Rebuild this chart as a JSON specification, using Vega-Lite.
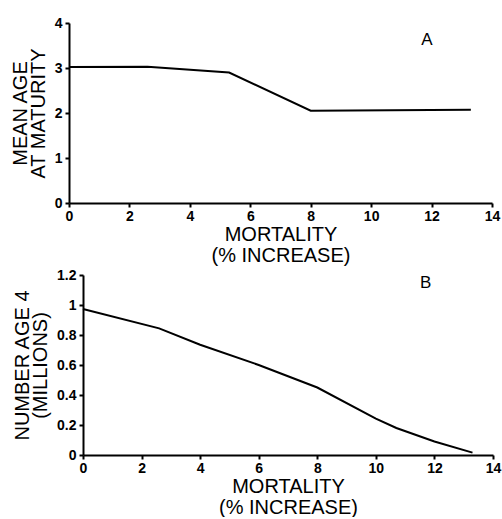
{
  "$schema": "https://vega.github.io/schema/vega-lite/v6.json",
  "background": "white",
  "padding": {"left": 10, "top": 16, "right": 1, "bottom": 0},
  "datasets": {
    "a": [
      {"mortality": 0, "age": 3.02},
      {"mortality": 2.6, "age": 3.03},
      {"mortality": 5.3, "age": 2.9},
      {"mortality": 8.0, "age": 2.05},
      {"mortality": 13.3, "age": 2.07}
    ],
    "b": [
      {"mortality": 0, "number": 0.973},
      {"mortality": 2.6, "number": 0.844},
      {"mortality": 4, "number": 0.735},
      {"mortality": 6, "number": 0.6},
      {"mortality": 8, "number": 0.45},
      {"mortality": 10, "number": 0.243},
      {"mortality": 10.7, "number": 0.18},
      {"mortality": 12, "number": 0.09},
      {"mortality": 13.3, "number": 0.016}
    ],
    "labA": [{"mortality": 11.85, "age": 3.62, "label": "A"}],
    "labB": [{"mortality": 11.7, "number": 1.15, "label": "B"}]
  },
  "config": {
    "font": "Liberation Sans",
    "view": {"stroke": null},
    "axis": {
      "grid": false,
      "domainColor": "black",
      "domainWidth": 2,
      "tickColor": "black",
      "tickWidth": 2,
      "tickSize": 4,
      "tickCount": 20,
      "labelFont": "Liberation Sans",
      "labelFontWeight": "bold",
      "labelFontSize": 14,
      "labelColor": "black",
      "labelPadding": 3,
      "labelOverlap": false,
      "labelFlush": false,
      "labelBound": false,
      "format": "~g",
      "titleFont": "Liberation Sans",
      "titleFontWeight": "normal",
      "titleFontSize": 20,
      "titleColor": "black",
      "titleLineHeight": 21
    },
    "axisX": {"labelPadding": 2, "titlePadding": 1},
    "axisY": {"titleFontSize": 20, "titleLineHeight": 18, "titlePadding": 6}
  },
  "vconcat": [
    {
      "width": 409,
      "height": 180,
      "layer": [
        {
          "data": {"name": "a"},
          "mark": {"type": "line", "color": "black", "strokeWidth": 2},
          "encoding": {
            "x": {"field": "mortality", "type": "quantitative", "scale": {"domain": [0, 14], "range": [-14, 409]},
                  "axis": {"values": [0, 2, 4, 6, 8, 10, 12, 14], "tickCount": 20, "title": ["MORTALITY", "(% INCREASE)"]}},
            "y": {"field": "age", "type": "quantitative", "scale": {"domain": [0, 4]},
                  "axis": {"values": [0, 1, 2, 3, 4], "tickCount": 20, "offset": 14, "title": ["MEAN AGE", "AT MATURITY"]}}
          }
        },
        {
          "data": {"name": "labA"},
          "mark": {"type": "text", "fontSize": 17, "font": "Liberation Sans", "color": "black"},
          "encoding": {
            "x": {"field": "mortality", "type": "quantitative"},
            "y": {"field": "age", "type": "quantitative"},
            "text": {"field": "label"}
          }
        }
      ]
    },
    {
      "width": 410,
      "height": 180,
      "layer": [
        {
          "data": {"name": "b"},
          "mark": {"type": "line", "color": "black", "strokeWidth": 2},
          "encoding": {
            "x": {"field": "mortality", "type": "quantitative", "scale": {"domain": [0, 14]},
                  "axis": {"values": [0, 2, 4, 6, 8, 10, 12, 14], "tickCount": 20, "title": ["MORTALITY", "(% INCREASE)"]}},
            "y": {"field": "number", "type": "quantitative", "scale": {"domain": [0, 1.2]},
                  "axis": {"values": [0, 0.2, 0.4, 0.6, 0.8, 1, 1.2], "tickCount": 20, "title": ["NUMBER AGE 4", "(MILLIONS)"]}}
          }
        },
        {
          "data": {"name": "labB"},
          "mark": {"type": "text", "fontSize": 17, "font": "Liberation Sans", "color": "black"},
          "encoding": {
            "x": {"field": "mortality", "type": "quantitative"},
            "y": {"field": "number", "type": "quantitative"},
            "text": {"field": "label"}
          }
        }
      ]
    }
  ],
  "spacing": 3
}
